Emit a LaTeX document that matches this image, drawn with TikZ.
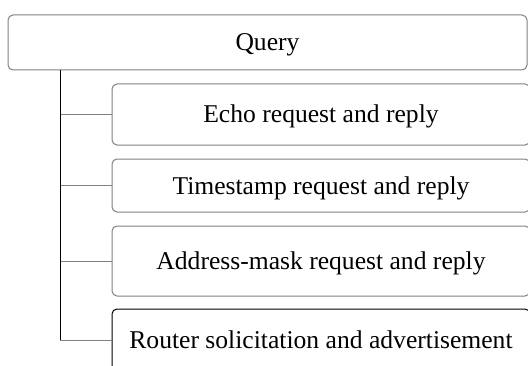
\documentclass[tikz,border=0pt]{standalone}
\usepackage{fontspec}
\setmainfont{Liberation Serif}
\definecolor{boxgray}{HTML}{808080}
\begin{document}
\begin{tikzpicture}[x=1pt,y=1pt,
  box/.style={draw=boxgray,line width=1pt,rounded corners=5pt,fill=white,
    inner sep=0pt,text height=17pt,text depth=0pt,font=\fontsize{25.6}{30}\selectfont},
  branch/.style={draw=boxgray,line width=1pt},
  trunk/.style={draw=black,line width=1pt}]
\useasboundingbox (0,0) rectangle (528,365);
\clip (0,0) rectangle (528,365);
\node[box,minimum width=519pt,minimum height=55pt] (query) at (267.5,322.5) {Query};
\node[box,minimum width=418pt,minimum height=61pt] (echo) at (321,250.5) {Echo request and reply};
\node[box,minimum width=418pt,minimum height=53pt] (ts) at (321,179.5) {Timestamp request and reply};
\node[box,minimum width=418pt,minimum height=70pt] (addr) at (321,104) {Address-mask request and reply};
\node[box,draw=black,minimum width=418pt,minimum height=62pt] (router) at (321,25) {Router solicitation and advertisement};
\coordinate (top) at (60,0 |- query.south);
\coordinate (bot) at (60,0 |- router.west);
\draw[branch] (top |- echo.west) -- (echo.west);
\draw[branch] (top |- ts.west) -- (ts.west);
\draw[branch] (top |- addr.west) -- (addr.west);
\draw[branch] (bot) -- (router.west);
\draw[trunk] (top) -- (bot);
\end{tikzpicture}
\end{document}
